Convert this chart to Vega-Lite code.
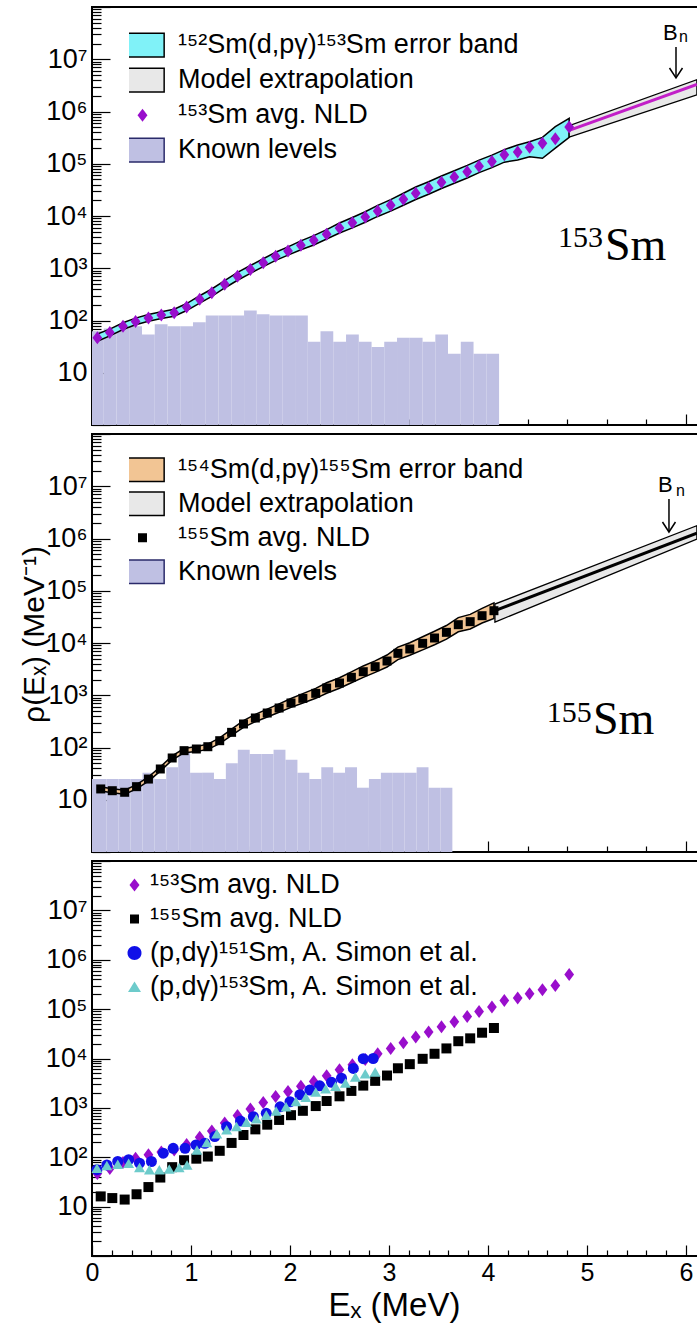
{
  "$schema": "https://vega.github.io/schema/vega-lite/v6.json",
  "autosize": {"type": "none"},
  "padding": {"left": 92, "top": 7, "right": 605, "bottom": 1317},
  "background": "white",
  "config": {
    "view": {"stroke": "black", "strokeWidth": 2},
    "font": "Liberation Sans",
    "axis": {"labelOverlap": false}
  },
  "datasets": {
    "nld153": [
      {"E":0.054,"v":47,"lo":40.0,"hi":55.2},{"E":0.18,"v":59,"lo":50.8,"hi":68.5},{"E":0.313,"v":78,"lo":67.2,"hi":90.6},
      {"E":0.44,"v":96,"lo":82.7,"hi":111},{"E":0.57,"v":112,"lo":96.5,"hi":130},{"E":0.70,"v":127,"lo":109,"hi":147},
      {"E":0.83,"v":141,"lo":121,"hi":164},{"E":0.956,"v":181,"lo":155,"hi":211},{"E":1.088,"v":254,"lo":216,"hi":298},
      {"E":1.21,"v":341,"lo":290,"hi":401},{"E":1.34,"v":492,"lo":419,"hi":578},{"E":1.47,"v":700,"lo":589,"hi":832},
      {"E":1.60,"v":950,"lo":799,"hi":1130},{"E":1.73,"v":1280,"lo":1077,"hi":1522},{"E":1.855,"v":1690,"lo":1412,"hi":2023},
      {"E":1.98,"v":2140,"lo":1780,"hi":2572},{"E":2.11,"v":2750,"lo":2261,"hi":3345},{"E":2.24,"v":3430,"lo":2789,"hi":4219},
      {"E":2.37,"v":4460,"lo":3626,"hi":5486},{"E":2.50,"v":5890,"lo":4726,"hi":7340},{"E":2.63,"v":7450,"lo":5917,"hi":9380},
      {"E":2.76,"v":9570,"lo":7601,"hi":12050},{"E":2.886,"v":12500,"lo":9810,"hi":15930},{"E":3.017,"v":16000,"lo":12420,"hi":20610},
      {"E":3.145,"v":20900,"lo":16040,"hi":27240},{"E":3.27,"v":27200,"lo":20640,"hi":35850},{"E":3.40,"v":34400,"lo":26100,"hi":45340},
      {"E":3.53,"v":44200,"lo":33540,"hi":58260},{"E":3.66,"v":55700,"lo":42260,"hi":73410},{"E":3.79,"v":70500,"lo":53490,"hi":92920},
      {"E":3.91,"v":89100,"lo":67600,"hi":117400},{"E":4.04,"v":111000,"lo":84220,"hi":146300},{"E":4.165,"v":149000,"lo":107150,"hi":186200},
      {"E":4.30,"v":168000,"lo":117500,"hi":229100},{"E":4.42,"v":206000,"lo":136500,"hi":263000},{"E":4.55,"v":246000,"lo":127400,"hi":319900},
      {"E":4.68,"v":302000,"lo":199500,"hi":512900},{"E":4.82,"v":505000,"lo":319900,"hi":741300}
    ],
    "nld155": [
      {"E":0.088,"v":16.1,"lo":14.7,"hi":17.6},{"E":0.205,"v":14.9,"lo":13.6,"hi":16.3},{"E":0.33,"v":13.9,"lo":12.7,"hi":15.2},
      {"E":0.45,"v":17.8,"lo":16.2,"hi":19.5},{"E":0.57,"v":24.9,"lo":22.7,"hi":27.3},{"E":0.69,"v":38.8,"lo":35.4,"hi":42.5},
      {"E":0.81,"v":63,"lo":57.5,"hi":69},{"E":0.93,"v":87,"lo":79.4,"hi":95.4},{"E":1.054,"v":93.6,"lo":83.4,"hi":105},
      {"E":1.17,"v":103.5,"lo":92.2,"hi":116},{"E":1.29,"v":135,"lo":119,"hi":153},{"E":1.41,"v":195,"lo":170,"hi":224},
      {"E":1.53,"v":282,"lo":243,"hi":327},{"E":1.65,"v":367,"lo":312,"hi":431},{"E":1.77,"v":457,"lo":384,"hi":543},
      {"E":1.89,"v":570,"lo":474,"hi":685},{"E":2.01,"v":711,"lo":585,"hi":865},{"E":2.13,"v":872,"lo":709,"hi":1073},
      {"E":2.26,"v":1088,"lo":874,"hi":1355},{"E":2.37,"v":1376,"lo":1093,"hi":1732},{"E":2.5,"v":1715,"lo":1362,"hi":2159},
      {"E":2.62,"v":2205,"lo":1731,"hi":2809},{"E":2.74,"v":2824,"lo":2193,"hi":3637},{"E":2.86,"v":3524,"lo":2736,"hi":4539},
      {"E":2.98,"v":4520,"lo":3469,"hi":5890},{"E":3.09,"v":6340,"lo":4810,"hi":8356},{"E":3.21,"v":7680,"lo":5827,"hi":10120},
      {"E":3.34,"v":9860,"lo":7391,"hi":13150},{"E":3.46,"v":12470,"lo":9244,"hi":16820},{"E":3.58,"v":16000,"lo":11860,"hi":21580},
      {"E":3.7,"v":22400,"lo":16410,"hi":30580},{"E":3.82,"v":25600,"lo":18550,"hi":35330},{"E":3.94,"v":33300,"lo":24130,"hi":45950},
      {"E":4.06,"v":41500,"lo":29370,"hi":58640}
    ],
    "ext153": [
      {"E":4.82,"lo":323600,"mid":436500,"hi":537000},
      {"E":6.11,"lo":2090000,"mid":3310000,"hi":4070000}
    ],
    "ext155": [
      {"E":4.07,"lo":25100,"mid":41500,"hi":55700},
      {"E":6.11,"lo":977000,"mid":1270000,"hi":1760000}
    ],
    "lev153": [
      {"E0":0,"E1":0.119,"n":62},{"E0":0.119,"E1":0.248,"n":70},{"E0":0.248,"E1":0.376,"n":70},{"E0":0.376,"E1":0.505,"n":78},
      {"E0":0.505,"E1":0.634,"n":54},{"E0":0.634,"E1":0.763,"n":85},{"E0":0.763,"E1":0.892,"n":78},{"E0":0.892,"E1":1.020,"n":78},
      {"E0":1.020,"E1":1.149,"n":93},{"E0":1.149,"E1":1.278,"n":124},{"E0":1.278,"E1":1.407,"n":124},{"E0":1.407,"E1":1.536,"n":124},
      {"E0":1.536,"E1":1.664,"n":155},{"E0":1.664,"E1":1.793,"n":132},{"E0":1.793,"E1":1.922,"n":124},{"E0":1.922,"E1":2.051,"n":124},
      {"E0":2.051,"E1":2.180,"n":124},{"E0":2.180,"E1":2.308,"n":39},{"E0":2.308,"E1":2.437,"n":62},{"E0":2.437,"E1":2.566,"n":39},
      {"E0":2.566,"E1":2.695,"n":54},{"E0":2.695,"E1":2.824,"n":39},{"E0":2.824,"E1":2.952,"n":31},{"E0":2.952,"E1":3.081,"n":39},
      {"E0":3.081,"E1":3.210,"n":47},{"E0":3.210,"E1":3.339,"n":47},{"E0":3.339,"E1":3.468,"n":39},{"E0":3.468,"E1":3.596,"n":54},
      {"E0":3.596,"E1":3.725,"n":23},{"E0":3.725,"E1":3.854,"n":39},{"E0":3.854,"E1":3.983,"n":23},{"E0":3.983,"E1":4.112,"n":23}
    ],
    "lev155": [
      {"E0":0,"E1":0.148,"n":25},{"E0":0.148,"E1":0.269,"n":25},{"E0":0.269,"E1":0.389,"n":25},{"E0":0.389,"E1":0.510,"n":25},
      {"E0":0.510,"E1":0.630,"n":33},{"E0":0.630,"E1":0.750,"n":25},{"E0":0.750,"E1":0.871,"n":42},{"E0":0.871,"E1":0.991,"n":83},
      {"E0":0.991,"E1":1.112,"n":33},{"E0":1.112,"E1":1.232,"n":33},{"E0":1.232,"E1":1.352,"n":25},{"E0":1.352,"E1":1.473,"n":50},
      {"E0":1.473,"E1":1.593,"n":91},{"E0":1.593,"E1":1.714,"n":75},{"E0":1.714,"E1":1.834,"n":75},{"E0":1.834,"E1":1.954,"n":91},
      {"E0":1.954,"E1":2.075,"n":58},{"E0":2.075,"E1":2.195,"n":33},{"E0":2.195,"E1":2.316,"n":25},{"E0":2.316,"E1":2.436,"n":42},
      {"E0":2.436,"E1":2.556,"n":33},{"E0":2.556,"E1":2.677,"n":42},{"E0":2.677,"E1":2.797,"n":17},{"E0":2.797,"E1":2.918,"n":25},
      {"E0":2.918,"E1":3.038,"n":33},{"E0":3.038,"E1":3.158,"n":33},{"E0":3.158,"E1":3.279,"n":33},{"E0":3.279,"E1":3.399,"n":42},
      {"E0":3.399,"E1":3.520,"n":17},{"E0":3.520,"E1":3.640,"n":17}
    ],
    "simon151": [
      {"E":0.05,"v":56},{"E":0.15,"v":70},{"E":0.26,"v":82},{"E":0.37,"v":89},{"E":0.48,"v":76},{"E":0.60,"v":82},
      {"E":0.72,"v":121},{"E":0.82,"v":152},{"E":0.94,"v":152},{"E":1.05,"v":178},{"E":1.14,"v":192},{"E":1.24,"v":262},
      {"E":1.36,"v":416},{"E":1.50,"v":540},{"E":1.63,"v":661},{"E":1.76,"v":774},{"E":1.90,"v":1050},{"E":2.00,"v":1330},
      {"E":2.10,"v":1850},{"E":2.20,"v":2300},{"E":2.30,"v":2800},{"E":2.42,"v":3300},{"E":2.52,"v":4000},{"E":2.64,"v":6300},
      {"E":2.74,"v":9900},{"E":2.84,"v":10000}
    ],
    "simon153": [
      {"E":0.05,"v":60},{"E":0.15,"v":68},{"E":0.26,"v":72},{"E":0.37,"v":76},{"E":0.48,"v":62},{"E":0.58,"v":56},
      {"E":0.68,"v":56},{"E":0.78,"v":58},{"E":0.88,"v":62},{"E":0.96,"v":70},{"E":1.06,"v":140},{"E":1.16,"v":200},
      {"E":1.26,"v":300},{"E":1.36,"v":360},{"E":1.46,"v":420},{"E":1.56,"v":510},{"E":1.66,"v":600},{"E":1.76,"v":720},
      {"E":1.86,"v":860},{"E":1.96,"v":1050},{"E":2.06,"v":1350},{"E":2.16,"v":1650},{"E":2.26,"v":2100},{"E":2.36,"v":2450},
      {"E":2.46,"v":2750},{"E":2.56,"v":3200},{"E":2.66,"v":4200},{"E":2.76,"v":4900},{"E":2.86,"v":5300}
    ],
    "leg1": [{"item":"¹⁵²Sm(d,pγ)¹⁵³Sm error band"},{"item":"Model extrapolation"},{"item":"¹⁵³Sm avg. NLD"},{"item":"Known levels"}],
    "leg2": [{"item":"¹⁵⁴Sm(d,pγ)¹⁵⁵Sm error band"},{"item":"Model extrapolation"},{"item":"¹⁵⁵Sm avg. NLD"},{"item":"Known levels"}],
    "leg3": [{"item":"¹⁵³Sm avg. NLD"},{"item":"¹⁵⁵Sm avg. NLD"},{"item":"(p,dγ)¹⁵¹Sm, A. Simon et al."},{"item":"(p,dγ)¹⁵³Sm, A. Simon et al."}]
  },
  "spacing": 9,
  "bounds": "flush",
  "resolve": {
    "scale": {"x": "independent", "y": "independent", "fill": "independent", "shape": "independent", "stroke": "independent"},
    "axis": {"x": "independent", "y": "independent"},
    "legend": {"fill": "independent", "shape": "independent", "stroke": "independent"}
  },
  "vconcat": [
    {
      "width": 610,
      "height": 418,
      "layer": [
        {
          "data": {"name": "lev153"},
          "mark": {"type": "rect", "fill": "#bfc0e3"},
          "encoding": {
            "x": {"field": "E0", "type": "quantitative", "scale": {"domain": [0, 6.1616], "nice": false},
              "axis": {"values": [0,0.2,0.4,0.6,0.8,1,1.2,1.4,1.6,1.8,2,2.2,2.4,2.6,2.8,3,3.2,3.4,3.6,3.8,4,4.2,4.4,4.6,4.8,5,5.2,5.4,5.6,5.8,6],
                "labels": false, "title": null, "domain": false, "grid": false, "tickColor": "black", "tickWidth": 1.2,
                "tickSize": {"condition": {"test": "datum.value == round(datum.value)", "value": -11}, "value": -6}}},
            "x2": {"field": "E1"},
            "y": {"field": "n", "type": "quantitative", "scale": {"type": "log", "domain": [1, 100000000], "nice": false},
              "axis": {"values": [1,2,3,4,5,6,7,8,9,10,20,30,40,50,60,70,80,90,100,200,300,400,500,600,700,800,900,1000,2000,3000,4000,5000,6000,7000,8000,9000,10000,20000,30000,40000,50000,60000,70000,80000,90000,100000,200000,300000,400000,500000,600000,700000,800000,900000,1000000,2000000,3000000,4000000,5000000,6000000,7000000,8000000,9000000,10000000,20000000,30000000,40000000,50000000,60000000,70000000,80000000,90000000,100000000],
                "labelExpr": "datum.value == 10 ? '10' : datum.value == 100 ? '10²' : datum.value == 1000 ? '10³' : datum.value == 10000 ? '10⁴' : datum.value == 100000 ? '10⁵' : datum.value == 1000000 ? '10⁶' : datum.value == 10000000 ? '10⁷' : ''",
                "labelFont": "Liberation Sans", "labelFontSize": 27, "labelColor": "black", "labelPadding": 23,
                "labelOverlap": false, "labelFlush": false, "labelBaseline": "middle",
                "title": null, "domain": false, "grid": false, "tickColor": "black", "tickWidth": 1.2,
                "tickSize": {"condition": {"test": "indexof([1,10,100,1000,10000,100000,1000000,10000000,100000000], datum.value) >= 0", "value": -18}, "value": -9}}},
            "y2": {"datum": 1}
          }
        },
        {
          "data": {"name": "nld153"},
          "mark": {"type": "area", "fill": "#80f2f8", "stroke": "black", "strokeWidth": 1.5, "clip": true},
          "encoding": {
            "x": {"field": "E", "type": "quantitative"},
            "y": {"field": "lo", "type": "quantitative"},
            "y2": {"field": "hi"}
          }
        },
        {
          "data": {"name": "ext153"},
          "mark": {"type": "area", "fill": "#e8e8e8", "stroke": "black", "strokeWidth": 1.3, "clip": true},
          "encoding": {
            "x": {"field": "E", "type": "quantitative"},
            "y": {"field": "lo", "type": "quantitative"},
            "y2": {"field": "hi"}
          }
        },
        {
          "data": {"name": "ext153"},
          "mark": {"type": "line", "color": "#c21fc8", "strokeWidth": 3, "clip": true},
          "encoding": {
            "x": {"field": "E", "type": "quantitative"},
            "y": {"field": "mid", "type": "quantitative"}
          }
        },
        {
          "data": {"name": "nld153"},
          "mark": {"type": "point", "shape": "M0,-1L0.75,0L0,1L-0.75,0Z", "filled": true, "color": "#990ecc", "size": 169, "opacity": 1, "strokeWidth": 0},
          "encoding": {
            "x": {"field": "E", "type": "quantitative"},
            "y": {"field": "v", "type": "quantitative"}
          }
        },
        {
          "data": {"values": [{"t": "arrow"}]},
          "mark": {"type": "rule", "color": "black", "strokeWidth": 1.5},
          "encoding": {"x": {"datum": 5.899}, "y": {"datum": 17100000}, "y2": {"datum": 4500000}}
        },
        {
          "data": {"values": [{"t": "head"}]},
          "mark": {"type": "point", "shape": "M-0.65,-1L0,0L0.65,-1", "filled": false, "stroke": "black", "strokeWidth": 1.5, "size": 400, "opacity": 1},
          "encoding": {"x": {"datum": 5.899}, "y": {"datum": 4380000}}
        },
        {
          "data": {"values": [{"t": "B"}]},
          "mark": {"type": "text", "font": "Liberation Sans", "fontSize": 22, "align": "left", "baseline": "alphabetic", "color": "black"},
          "encoding": {"x": {"datum": 5.768}, "y": {"datum": 23350000}, "text": {"field": "t"}}
        },
        {
          "data": {"values": [{"t": "n"}]},
          "mark": {"type": "text", "font": "Liberation Sans", "fontSize": 16, "align": "left", "baseline": "alphabetic", "color": "black"},
          "encoding": {"x": {"datum": 5.929}, "y": {"datum": 21400000}, "text": {"field": "t"}}
        },
        {
          "data": {"values": [{"t": "153"}]},
          "mark": {"type": "text", "font": "Liberation Serif", "fontSize": 30, "align": "left", "baseline": "alphabetic", "color": "black"},
          "encoding": {"x": {"datum": 4.707}, "y": {"datum": 2553}, "text": {"field": "t"}}
        },
        {
          "data": {"values": [{"t": "Sm"}]},
          "mark": {"type": "text", "font": "Liberation Serif", "fontSize": 46, "align": "left", "baseline": "alphabetic", "color": "black"},
          "encoding": {"x": {"datum": 5.182}, "y": {"datum": 1439}, "text": {"field": "t"}}
        },
        {
          "data": {"name": "leg1"},
          "transform": [{"filter": "false"}],
          "mark": {"type": "point", "filled": true, "opacity": 1},
          "encoding": {
            "fill": {"field": "item", "type": "nominal",
              "scale": {"domain": ["¹⁵²Sm(d,pγ)¹⁵³Sm error band", "Model extrapolation", "¹⁵³Sm avg. NLD", "Known levels"], "range": ["#80f2f8", "#e8e8e8", "#990ecc", "#bfc0e3"]},
              "legend": {"orient": "none", "legendX": 37, "legendY": 21, "title": null, "padding": 0,
                "labelFont": "Liberation Sans", "labelFontSize": 27, "labelColor": "black", "labelLimit": 600,
                "labelOffset": 22, "symbolSize": 560, "symbolStrokeWidth": 1.5, "clipHeight": 34.3, "rowPadding": 0, "symbolOffset": 0}},
            "shape": {"field": "item", "type": "nominal",
              "scale": {"domain": ["¹⁵²Sm(d,pγ)¹⁵³Sm error band", "Model extrapolation", "¹⁵³Sm avg. NLD", "Known levels"],
                "range": ["M-1.83,-1L1.83,-1L1.83,1L-1.83,1Z", "M-1.83,-1L1.83,-1L1.83,1L-1.83,1Z", "M0,-0.55L0.42,0L0,0.55L-0.42,0Z", "M-1.83,-1L1.83,-1L1.83,1L-1.83,1Z"]}},
            "stroke": {"field": "item", "type": "nominal",
              "scale": {"domain": ["¹⁵²Sm(d,pγ)¹⁵³Sm error band", "Model extrapolation", "¹⁵³Sm avg. NLD", "Known levels"], "range": ["black", "black", "transparent", "#2a2a6a"]}}
          }
        }
      ]
    },
    {
      "width": 610,
      "height": 418,
      "layer": [
        {
          "data": {"name": "lev155"},
          "mark": {"type": "rect", "fill": "#bfc0e3"},
          "encoding": {
            "x": {"field": "E0", "type": "quantitative", "scale": {"domain": [0, 6.1616], "nice": false},
              "axis": {"values": [0,0.2,0.4,0.6,0.8,1,1.2,1.4,1.6,1.8,2,2.2,2.4,2.6,2.8,3,3.2,3.4,3.6,3.8,4,4.2,4.4,4.6,4.8,5,5.2,5.4,5.6,5.8,6],
                "labels": false, "title": null, "domain": false, "grid": false, "tickColor": "black", "tickWidth": 1.2,
                "tickSize": {"condition": {"test": "datum.value == round(datum.value)", "value": -11}, "value": -6}}},
            "x2": {"field": "E1"},
            "y": {"field": "n", "type": "quantitative", "scale": {"type": "log", "domain": [1, 100000000], "nice": false},
              "axis": {"values": [1,2,3,4,5,6,7,8,9,10,20,30,40,50,60,70,80,90,100,200,300,400,500,600,700,800,900,1000,2000,3000,4000,5000,6000,7000,8000,9000,10000,20000,30000,40000,50000,60000,70000,80000,90000,100000,200000,300000,400000,500000,600000,700000,800000,900000,1000000,2000000,3000000,4000000,5000000,6000000,7000000,8000000,9000000,10000000,20000000,30000000,40000000,50000000,60000000,70000000,80000000,90000000,100000000],
                "labelExpr": "datum.value == 10 ? '10' : datum.value == 100 ? '10²' : datum.value == 1000 ? '10³' : datum.value == 10000 ? '10⁴' : datum.value == 100000 ? '10⁵' : datum.value == 1000000 ? '10⁶' : datum.value == 10000000 ? '10⁷' : ''",
                "labelFont": "Liberation Sans", "labelFontSize": 27, "labelColor": "black", "labelPadding": 23,
                "labelOverlap": false, "labelFlush": false, "labelBaseline": "middle",
                "title": "ρ(Eₓ) (MeV⁻¹)", "titleFont": "Liberation Sans", "titleFontSize": 30, "titleFontWeight": "normal", "titleColor": "black",
                "titleX": -58, "titleY": 200, "titleAngle": -90, "titleAlign": "center", "titleBaseline": "middle",
                "domain": false, "grid": false, "tickColor": "black", "tickWidth": 1.2,
                "tickSize": {"condition": {"test": "indexof([1,10,100,1000,10000,100000,1000000,10000000,100000000], datum.value) >= 0", "value": -18}, "value": -9}}},
            "y2": {"datum": 1}
          }
        },
        {
          "data": {"name": "nld155"},
          "mark": {"type": "area", "fill": "#f2c594", "stroke": "black", "strokeWidth": 1.5, "clip": true},
          "encoding": {
            "x": {"field": "E", "type": "quantitative"},
            "y": {"field": "lo", "type": "quantitative"},
            "y2": {"field": "hi"}
          }
        },
        {
          "data": {"name": "ext155"},
          "mark": {"type": "area", "fill": "#e8e8e8", "stroke": "black", "strokeWidth": 1.3, "clip": true},
          "encoding": {
            "x": {"field": "E", "type": "quantitative"},
            "y": {"field": "lo", "type": "quantitative"},
            "y2": {"field": "hi"}
          }
        },
        {
          "data": {"name": "ext155"},
          "mark": {"type": "line", "color": "black", "strokeWidth": 3, "clip": true},
          "encoding": {
            "x": {"field": "E", "type": "quantitative"},
            "y": {"field": "mid", "type": "quantitative"}
          }
        },
        {
          "data": {"name": "nld155"},
          "mark": {"type": "point", "shape": "square", "filled": true, "color": "black", "size": 81, "opacity": 1, "strokeWidth": 0},
          "encoding": {
            "x": {"field": "E", "type": "quantitative"},
            "y": {"field": "v", "type": "quantitative"}
          }
        },
        {
          "data": {"values": [{"t": "arrow"}]},
          "mark": {"type": "rule", "color": "black", "strokeWidth": 1.5},
          "encoding": {"x": {"datum": 5.828}, "y": {"datum": 5700000}, "y2": {"datum": 1380000}}
        },
        {
          "data": {"values": [{"t": "head"}]},
          "mark": {"type": "point", "shape": "M-0.65,-1L0,0L0.65,-1", "filled": false, "stroke": "black", "strokeWidth": 1.5, "size": 400, "opacity": 1},
          "encoding": {"x": {"datum": 5.828}, "y": {"datum": 1330000}}
        },
        {
          "data": {"values": [{"t": "B"}]},
          "mark": {"type": "text", "font": "Liberation Sans", "fontSize": 22, "align": "left", "baseline": "alphabetic", "color": "black"},
          "encoding": {"x": {"datum": 5.717}, "y": {"datum": 7760000}, "text": {"field": "t"}}
        },
        {
          "data": {"values": [{"t": "n"}]},
          "mark": {"type": "text", "font": "Liberation Sans", "fontSize": 16, "align": "left", "baseline": "alphabetic", "color": "black"},
          "encoding": {"x": {"datum": 5.899}, "y": {"datum": 6500000}, "text": {"field": "t"}}
        },
        {
          "data": {"values": [{"t": "155"}]},
          "mark": {"type": "text", "font": "Liberation Serif", "fontSize": 30, "align": "left", "baseline": "alphabetic", "color": "black"},
          "encoding": {"x": {"datum": 4.593}, "y": {"datum": 307.6}, "text": {"field": "t"}}
        },
        {
          "data": {"values": [{"t": "Sm"}]},
          "mark": {"type": "text", "font": "Liberation Serif", "fontSize": 46, "align": "left", "baseline": "alphabetic", "color": "black"},
          "encoding": {"x": {"datum": 5.061}, "y": {"datum": 181}, "text": {"field": "t"}}
        },
        {
          "data": {"name": "leg2"},
          "transform": [{"filter": "false"}],
          "mark": {"type": "point", "filled": true, "opacity": 1},
          "encoding": {
            "fill": {"field": "item", "type": "nominal",
              "scale": {"domain": ["¹⁵⁴Sm(d,pγ)¹⁵⁵Sm error band", "Model extrapolation", "¹⁵⁵Sm avg. NLD", "Known levels"], "range": ["#f2c594", "#e8e8e8", "black", "#bfc0e3"]},
              "legend": {"orient": "none", "legendX": 37, "legendY": 19, "title": null, "padding": 0,
                "labelFont": "Liberation Sans", "labelFontSize": 27, "labelColor": "black", "labelLimit": 600,
                "labelOffset": 22, "symbolSize": 560, "symbolStrokeWidth": 1.5, "clipHeight": 33.5, "rowPadding": 0, "symbolOffset": 0}},
            "shape": {"field": "item", "type": "nominal",
              "scale": {"domain": ["¹⁵⁴Sm(d,pγ)¹⁵⁵Sm error band", "Model extrapolation", "¹⁵⁵Sm avg. NLD", "Known levels"],
                "range": ["M-1.83,-1L1.83,-1L1.83,1L-1.83,1Z", "M-1.83,-1L1.83,-1L1.83,1L-1.83,1Z", "M-0.38,-0.38L0.38,-0.38L0.38,0.38L-0.38,0.38Z", "M-1.83,-1L1.83,-1L1.83,1L-1.83,1Z"]}},
            "stroke": {"field": "item", "type": "nominal",
              "scale": {"domain": ["¹⁵⁴Sm(d,pγ)¹⁵⁵Sm error band", "Model extrapolation", "¹⁵⁵Sm avg. NLD", "Known levels"], "range": ["black", "black", "transparent", "#2a2a6a"]}}
          }
        }
      ]
    },
    {
      "width": 610,
      "height": 395,
      "resolve": {"axis": {"x": "independent"}},
      "layer": [
        {
          "data": {"name": "nld153"},
          "mark": {"type": "point", "shape": "M0,-1L0.75,0L0,1L-0.75,0Z", "filled": true, "color": "#990ecc", "size": 169, "opacity": 1, "strokeWidth": 0},
          "encoding": {
            "x": {"field": "E", "type": "quantitative", "scale": {"domain": [0, 6.1616], "nice": false},
              "axis": {"values": [0,1,2,3,4,5,6], "format": "d", "orient": "bottom",
                "labelFont": "Liberation Sans", "labelFontSize": 25, "labelColor": "black", "labelPadding": 15,
                "labelOverlap": false, "labelFlush": false,
                "title": "Eₓ (MeV)", "titleFont": "Liberation Sans", "titleFontSize": 33, "titleFontWeight": "normal", "titleColor": "black",
                "titleX": 302, "titleY": 59, "titleAlign": "center", "titleBaseline": "alphabetic",
                "domain": false, "grid": false, "tickColor": "black", "tickWidth": 1.2, "tickSize": -11}},
            "y": {"field": "v", "type": "quantitative", "scale": {"type": "log", "domain": [1, 100000000], "nice": false},
              "axis": {"values": [1,2,3,4,5,6,7,8,9,10,20,30,40,50,60,70,80,90,100,200,300,400,500,600,700,800,900,1000,2000,3000,4000,5000,6000,7000,8000,9000,10000,20000,30000,40000,50000,60000,70000,80000,90000,100000,200000,300000,400000,500000,600000,700000,800000,900000,1000000,2000000,3000000,4000000,5000000,6000000,7000000,8000000,9000000,10000000,20000000,30000000,40000000,50000000,60000000,70000000,80000000,90000000,100000000],
                "labelExpr": "datum.value == 10 ? '10' : datum.value == 100 ? '10²' : datum.value == 1000 ? '10³' : datum.value == 10000 ? '10⁴' : datum.value == 100000 ? '10⁵' : datum.value == 1000000 ? '10⁶' : datum.value == 10000000 ? '10⁷' : ''",
                "labelFont": "Liberation Sans", "labelFontSize": 27, "labelColor": "black", "labelPadding": 23,
                "labelOverlap": false, "labelFlush": false, "labelBaseline": "middle",
                "title": null, "domain": false, "grid": false, "tickColor": "black", "tickWidth": 1.2,
                "tickSize": {"condition": {"test": "indexof([1,10,100,1000,10000,100000,1000000,10000000,100000000], datum.value) >= 0", "value": -18}, "value": -9}}}
          }
        },
        {
          "data": {"name": "nld155"},
          "mark": {"type": "point", "shape": "square", "filled": true, "color": "black", "size": 100, "opacity": 1, "strokeWidth": 0},
          "encoding": {
            "x": {"field": "E", "type": "quantitative",
              "axis": {"values": [0.2,0.4,0.6,0.8,1.2,1.4,1.6,1.8,2.2,2.4,2.6,2.8,3.2,3.4,3.6,3.8,4.2,4.4,4.6,4.8,5.2,5.4,5.6,5.8,6.2],
                "orient": "bottom", "labels": false, "title": null, "domain": false, "grid": false,
                "tickColor": "black", "tickWidth": 1.2, "tickSize": -6}},
            "y": {"field": "v", "type": "quantitative"}
          }
        },
        {
          "data": {"name": "simon151"},
          "mark": {"type": "point", "shape": "circle", "filled": true, "color": "#1010e8", "size": 121, "opacity": 1, "strokeWidth": 0},
          "encoding": {
            "x": {"field": "E", "type": "quantitative", "axis": null},
            "y": {"field": "v", "type": "quantitative"}
          }
        },
        {
          "data": {"name": "simon153"},
          "mark": {"type": "point", "shape": "triangle-up", "filled": true, "color": "#6dcbcb", "size": 120, "opacity": 1, "strokeWidth": 0},
          "encoding": {
            "x": {"field": "E", "type": "quantitative", "axis": null},
            "y": {"field": "v", "type": "quantitative"}
          }
        },
        {
          "data": {"name": "leg3"},
          "transform": [{"filter": "false"}],
          "mark": {"type": "point", "filled": true, "opacity": 1},
          "encoding": {
            "fill": {"field": "item", "type": "nominal",
              "scale": {"domain": ["¹⁵³Sm avg. NLD", "¹⁵⁵Sm avg. NLD", "(p,dγ)¹⁵¹Sm, A. Simon et al.", "(p,dγ)¹⁵³Sm, A. Simon et al."], "range": ["#990ecc", "black", "#1010e8", "#6dcbcb"]},
              "legend": {"orient": "none", "legendX": 29, "legendY": 7.3, "title": null, "padding": 0,
                "labelFont": "Liberation Sans", "labelFontSize": 27, "labelColor": "black", "labelLimit": 600,
                "labelOffset": 2, "symbolSize": 400, "symbolStrokeWidth": 0, "clipHeight": 33.3, "rowPadding": 0, "symbolOffset": 0}},
            "shape": {"field": "item", "type": "nominal",
              "scale": {"domain": ["¹⁵³Sm avg. NLD", "¹⁵⁵Sm avg. NLD", "(p,dγ)¹⁵¹Sm, A. Simon et al.", "(p,dγ)¹⁵³Sm, A. Simon et al."],
                "range": ["M0,-0.65L0.5,0L0,0.65L-0.5,0Z", "M-0.45,-0.45L0.45,-0.45L0.45,0.45L-0.45,0.45Z", "M0.7,0A0.7,0.7 0 1,1 -0.7,0A0.7,0.7 0 1,1 0.7,0Z", "M0,-0.55L0.65,0.5L-0.65,0.5Z"]}}
          }
        }
      ]
    }
  ]
}
